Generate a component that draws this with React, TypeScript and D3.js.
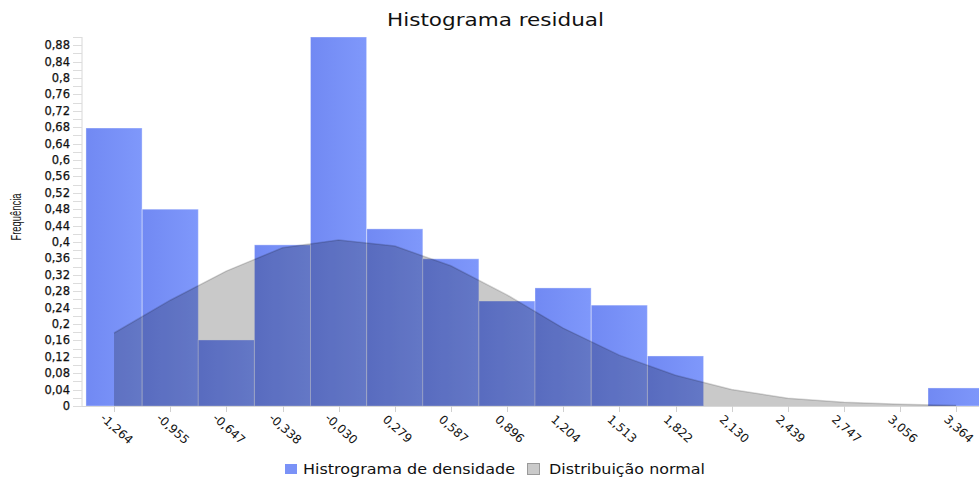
import React, { useEffect, useRef } from "react";
import * as d3 from "d3";

// bin centres (also the x tick labels)
const binCenters = [
  -1.264, -0.955, -0.647, -0.338, -0.03, 0.279, 0.587, 0.896, 1.204, 1.513,
  1.822, 2.13, 2.439, 2.747, 3.056, 3.364,
];
const binLabels = [
  "-1,264", "-0,955", "-0,647", "-0,338", "-0,030", "0,279", "0,587", "0,896",
  "1,204", "1,513", "1,822", "2,130", "2,439", "2,747", "3,056", "3,364",
];
// histogram density per bin
const histDensity = [
  0.678, 0.48, 0.161, 0.393, 0.9, 0.432, 0.359, 0.256, 0.288, 0.246, 0.122,
  0, 0, 0, 0, 0.044,
];
// normal distribution density at each bin centre
const normalDensity = [
  0.178, 0.258, 0.329, 0.386, 0.405, 0.39, 0.342, 0.271, 0.19, 0.124, 0.075,
  0.04, 0.019, 0.009, 0.004, 0.001,
];
const yTickValues = d3.range(0, 23).map((i) => i * 0.04);
const binWidth = 0.3085;

const W = 979;
const H = 479;

export default function App() {
  const ref = useRef<SVGSVGElement>(null);

  useEffect(() => {
    const svg = d3.select(ref.current);
    svg.selectAll("*").remove();

    const left = 82;
    const right = 979;
    const top = 37;
    const bottom = 406;
    const font = "'DejaVu Sans', Verdana, sans-serif";

    const x = d3.scaleLinear().domain([-1.44, 3.49]).range([left, right]);
    const y = d3.scaleLinear().domain([0, 0.9]).range([bottom, top]);

    const defs = svg.append("defs");
    defs.append("clipPath").attr("id", "plotclip")
      .append("rect").attr("x", left).attr("y", 0).attr("width", right - left).attr("height", bottom);
    const grad = defs.append("linearGradient").attr("id", "bargrad")
      .attr("x1", "0%").attr("x2", "100%").attr("y1", "0%").attr("y2", "0%");
    grad.append("stop").attr("offset", "0%").attr("stop-color", "#7189f3");
    grad.append("stop").attr("offset", "100%").attr("stop-color", "#7f98fb");

    // title
    svg.append("text")
      .attr("x", 387).attr("y", 26)
      .attr("font-family", font).attr("font-size", 17)
      .attr("fill", "#111")
      .attr("textLength", 217).attr("lengthAdjust", "spacingAndGlyphs")
      .text("Histograma residual");

    // y label (condensed)
    svg.append("text")
      .attr("transform", "translate(21,217) rotate(-90)")
      .attr("text-anchor", "middle")
      .attr("font-family", "'Liberation Sans', Arial, sans-serif").attr("font-size", 14.5)
      .attr("fill", "#111")
      .attr("textLength", 47).attr("lengthAdjust", "spacingAndGlyphs")
      .text("Frequência");

    const plot = svg.append("g").attr("clip-path", "url(#plotclip)");

    // bars
    plot.selectAll("rect.bar")
      .data(binCenters.map((c, i) => ({ c, v: histDensity[i] })).filter((d) => d.v > 0))
      .join("rect")
      .attr("class", "bar")
      .attr("x", (d) => x(d.c - binWidth / 2))
      .attr("width", (d) => x(d.c + binWidth / 2) - x(d.c - binWidth / 2))
      .attr("y", (d) => y(d.v))
      .attr("height", (d) => y(0) - y(d.v))
      .attr("fill", "url(#bargrad)")
      .attr("stroke", "rgba(255,255,255,0.35)")
      .attr("stroke-width", 1);

    // normal curve area on top
    const pts = binCenters.map((c, i) => ({ c, v: normalDensity[i] }));
    const area = d3.area<{ c: number; v: number }>()
      .x((d) => x(d.c)).y0(y(0)).y1((d) => y(d.v));
    const line = d3.line<{ c: number; v: number }>()
      .x((d) => x(d.c)).y((d) => y(d.v));
    plot.append("path").attr("d", area(pts)!)
      .attr("fill", "rgba(0,0,0,0.21)");
    plot.append("path").attr("d", line(pts)!)
      .attr("fill", "none")
      .attr("stroke", "rgba(0,0,0,0.16)")
      .attr("stroke-width", 1.5);

    // y axis
    svg.append("line")
      .attr("x1", left).attr("x2", left).attr("y1", top).attr("y2", bottom)
      .attr("stroke", "#d8d8d8");
    const minor = d3.range(0, 46).map((i) => i * 0.02);
    svg.selectAll("line.ytick").data(minor).join("line")
      .attr("class", "ytick")
      .attr("x1", left - 9).attr("x2", left)
      .attr("y1", (d) => Math.round(y(d)) + 0.5).attr("y2", (d) => Math.round(y(d)) + 0.5)
      .attr("stroke", "#dcdcdc");
    svg.selectAll("text.ylab").data(yTickValues).join("text")
      .attr("class", "ylab")
      .attr("x", 70).attr("y", (d) => y(d) + 4)
      .attr("text-anchor", "end")
      .attr("font-family", font).attr("font-size", 11.5)
      .attr("fill", "#111").attr("stroke", "#111").attr("stroke-width", 0.25)
      .text((d) => d3.format("~g")(+d.toFixed(2)).replace(".", ","));

    // x axis
    svg.append("line")
      .attr("x1", left).attr("x2", right).attr("y1", bottom + 0.5).attr("y2", bottom + 0.5)
      .attr("stroke", "#d8d8d8");
    svg.selectAll("line.xtick").data(binCenters).join("line")
      .attr("class", "xtick")
      .attr("x1", (d) => Math.round(x(d)) + 0.5).attr("x2", (d) => Math.round(x(d)) + 0.5)
      .attr("y1", bottom).attr("y2", bottom + 6)
      .attr("stroke", "#d0d0d0");
    svg.selectAll("text.xlab").data(binCenters).join("text")
      .attr("class", "xlab")
      .attr("transform", (d) => `translate(${x(d)},${bottom + 26}) rotate(42)`)
      .attr("text-anchor", "middle")
      .attr("font-family", font).attr("font-size", 12)
      .attr("fill", "#111")
      .text((d, i) => binLabels[i]);

    // legend
    const lg = svg.append("g").attr("font-family", font).attr("font-size", 14).attr("fill", "#111");
    lg.append("rect").attr("x", 285).attr("y", 464).attr("width", 12).attr("height", 10).attr("fill", "#7a92f7");
    lg.append("text").attr("x", 303).attr("y", 474)
      .attr("textLength", 212).attr("lengthAdjust", "spacingAndGlyphs")
      .text("Histrograma de densidade");
    lg.append("rect").attr("x", 527.5).attr("y", 463.5).attr("width", 12).attr("height", 11)
      .attr("fill", "#cacaca").attr("stroke", "#9a9a9a");
    lg.append("text").attr("x", 549).attr("y", 474)
      .attr("textLength", 156).attr("lengthAdjust", "spacingAndGlyphs")
      .text("Distribuição normal");
  }, []);

  return (
    <div style={{ position: "absolute", left: 0, top: 0, background: "#fff" }}>
      <svg ref={ref} width={W} height={H} style={{ display: "block" }} />
    </div>
  );
}
